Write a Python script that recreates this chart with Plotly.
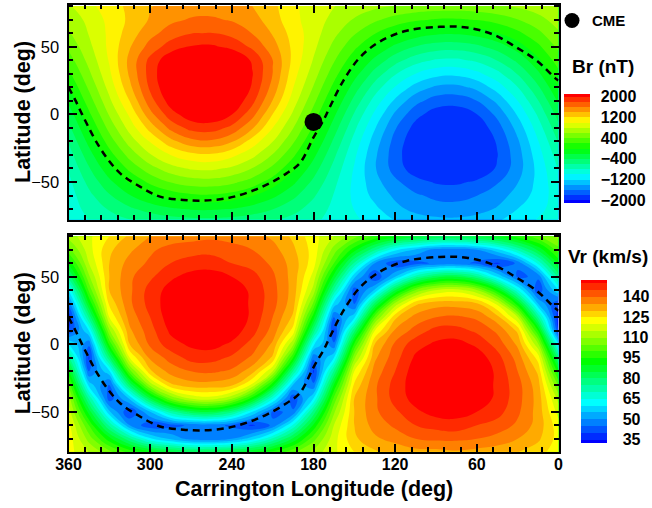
import plotly.graph_objects as go

# ---------------- data ----------------
LON = [0, 15, 30, 45, 60, 75, 90, 105, 120, 135, 150, 165, 180,
       195, 210, 225, 240, 255, 270, 285, 300, 315, 330, 345, 360]
LAT = [-80, -70, -60, -50, -40, -30, -20, -10, 0, 10, 20, 30, 40, 50, 60, 70, 80]

# Br (nT), rows follow LAT, columns follow LON
BR = [
    [-887, -965, -1100, -1200, -1280, -1320, -1310, -1260, -1180, -1080, -940, -859, -777, -699, -630, -574, -536, -518, -522, -547, -591, -651, -724, -805, -887],
    [-902, -1056, -1197, -1380, -1480, -1530, -1520, -1460, -1340, -1152, -1006, -848, -686, -532, -395, -286, -211, -176, -183, -232, -319, -438, -582, -740, -902],
    [-889, -1116, -1323, -1489, -1602, -1656, -1645, -1571, -1439, -1258, -1042, -811, -575, -349, -150, 10, 119, 171, 160, 89, -38, -212, -422, -653, -889],
    [-849, -1141, -1408, -1621, -1768, -1836, -1822, -1727, -1557, -1324, -1045, -749, -445, -155, 102, 307, 448, 514, 500, 409, 245, 21, -249, -545, -849],
    [-784, -1135, -1490, -1775, -1970, -1995, -1995, -1916, -1689, -1379, -1018, -664, -302, 44, 349, 594, 761, 840, 824, 715, 520, 253, -68, -422, -784],
    [-696, -1086, -1486, -1809, -1995, -1995, -1995, -1969, -1713, -1361, -960, -560, -150, 240, 586, 863, 1052, 1161, 1134, 1000, 780, 478, 114, -286, -696],
    [-585, -1009, -1430, -1780, -1995, -1995, -1995, -1952, -1675, -1294, -871, -438, 7, 431, 806, 1109, 1417, 1562, 1532, 1331, 1015, 688, 293, -140, -585],
    [-457, -901, -1326, -1692, -1943, -1995, -1995, -1875, -1583, -1183, -757, -303, 163, 607, 1000, 1423, 1745, 1896, 1867, 1657, 1279, 877, 463, 9, -457],
    [-315, -766, -1176, -1548, -1803, -1922, -1897, -1733, -1437, -1040, -620, -158, 315, 766, 1198, 1677, 2005, 2159, 2127, 1915, 1533, 1040, 620, 158, -315],
    [-163, -607, -1000, -1351, -1601, -1718, -1695, -1532, -1240, -877, -463, -9, 457, 901, 1391, 1863, 2186, 2337, 2308, 2097, 1720, 1207, 757, 303, -163],
    [-7, -431, -806, -1107, -1345, -1458, -1436, -1279, -1015, -688, -293, 140, 585, 1009, 1526, 1976, 2283, 2429, 2398, 2197, 1840, 1349, 871, 438, -7],
    [150, -240, -586, -863, -1052, -1148, -1127, -1000, -780, -478, -114, 286, 696, 1086, 1598, 2013, 2296, 2430, 2403, 2219, 1888, 1436, 960, 560, 150],
    [302, -44, -349, -594, -761, -840, -824, -715, -520, -253, 68, 422, 784, 1145, 1602, 1970, 2220, 2338, 2314, 2151, 1859, 1458, 1018, 664, 302],
    [445, 155, -102, -307, -448, -514, -500, -409, -245, -21, 249, 545, 849, 1151, 1491, 1761, 1947, 2035, 2016, 1896, 1679, 1384, 1045, 749, 445],
    [575, 349, 150, -10, -119, -171, -160, -89, 38, 212, 422, 653, 889, 1120, 1382, 1594, 1738, 1806, 1792, 1698, 1530, 1301, 1042, 811, 575],
    [686, 532, 395, 286, 211, 176, 183, 232, 319, 438, 582, 740, 902, 1056, 1300, 1480, 1580, 1630, 1620, 1550, 1420, 1240, 1060, 848, 686],
    [777, 699, 630, 574, 536, 518, 522, 547, 591, 651, 724, 805, 887, 1050, 1250, 1400, 1480, 1500, 1500, 1460, 1390, 1250, 1100, 950, 777],
]

# Vr (km/s), rows follow LAT, columns follow LON
VR = [
    [122, 127, 130, 132, 133, 134, 133, 133, 131, 129, 125, 119, 112, 104, 97, 91, 87, 85, 85, 88, 93, 99, 107, 115, 122],
    [123, 131, 135, 138, 140, 141, 141, 140, 137, 134, 129, 118, 103, 86, 71, 58, 50, 47, 48, 54, 61, 76, 92, 108, 123],
    [122, 133, 139, 143, 145, 148, 147, 145, 141, 137, 130, 115, 91, 66, 46, 39, 44, 47, 46, 43, 41, 50, 74, 100, 122],
    [118, 133, 141, 147, 150, 152, 152, 149, 144, 139, 130, 109, 77, 46, 44, 60, 77, 85, 83, 73, 55, 40, 56, 88, 118],
    [113, 133, 142, 149, 153, 155, 155, 152, 147, 139, 130, 101, 60, 41, 66, 93, 111, 118, 116, 106, 85, 56, 42, 74, 113],
    [104, 132, 142, 149, 154, 157, 156, 153, 147, 139, 126, 90, 46, 55, 92, 119, 131, 133, 133, 129, 112, 81, 44, 58, 104],
    [92, 129, 140, 149, 154, 157, 156, 153, 145, 137, 120, 76, 39, 75, 115, 132, 139, 141, 140, 137, 129, 103, 59, 45, 92],
    [78, 123, 138, 147, 153, 155, 154, 151, 143, 134, 109, 60, 46, 95, 129, 139, 144, 147, 147, 142, 136, 120, 79, 39, 78],
    [61, 111, 134, 143, 149, 152, 151, 148, 141, 130, 96, 46, 61, 111, 134, 143, 149, 152, 151, 148, 141, 130, 96, 46, 61],
    [40, 95, 129, 139, 144, 147, 147, 142, 136, 120, 79, 39, 78, 123, 138, 147, 153, 155, 154, 151, 143, 134, 109, 60, 40],
    [36, 75, 115, 132, 139, 141, 140, 137, 129, 103, 59, 45, 92, 129, 140, 149, 154, 157, 156, 153, 145, 137, 120, 76, 36],
    [40, 55, 92, 119, 131, 133, 133, 129, 112, 81, 44, 58, 104, 132, 142, 149, 154, 157, 156, 153, 147, 139, 126, 90, 46],
    [60, 41, 66, 93, 111, 118, 116, 106, 85, 56, 42, 74, 113, 133, 142, 149, 153, 155, 155, 152, 147, 139, 130, 101, 60],
    [77, 46, 44, 60, 77, 85, 83, 73, 55, 40, 56, 88, 118, 133, 141, 147, 150, 152, 152, 149, 144, 139, 130, 109, 77],
    [91, 66, 46, 39, 44, 47, 46, 43, 41, 50, 74, 100, 122, 133, 139, 143, 145, 148, 147, 145, 141, 137, 130, 115, 91],
    [103, 86, 71, 58, 50, 47, 48, 54, 61, 76, 92, 108, 123, 131, 137, 140, 142, 143, 143, 142, 139, 134, 129, 118, 103],
    [112, 104, 97, 91, 87, 85, 85, 88, 93, 99, 107, 115, 122, 129, 134, 137, 138, 139, 138, 137, 135, 131, 125, 119, 112],
]

# dashed neutral line (deg)
NEUTRAL_LON = [360, 355, 350, 345, 340, 332, 322, 307.5, 292.8, 275.7, 261, 243.8, 229, 214.4,
               199.8, 190, 180, 172, 168, 158, 146, 131, 111.6, 87.2, 67.6, 48, 30.9, 16, 2.7, 0]
NEUTRAL_LAT = [20, 10.5, 0, -10, -19.5, -32, -43.6, -53.4, -60.8, -63.2, -63.7, -62, -58, -52,
               -43.6, -36, -17, -3, 5.4, 25, 42, 54, 61.8, 64.7, 64.2, 59, 49.5, 39.7, 27, 25]

CME_LON = [180]
CME_LAT = [-5.6]

BR_TICKS = [-2000, -1200, -400, 400, 1200, 2000]
VR_TICKS = [35, 50, 65, 80, 95, 110, 125, 140]
X_TICKS = [360, 300, 240, 180, 120, 60, 0]
Y_TICKS = [-50, 0, 50]

# ---------------- styling ----------------
W, H = 652, 508
FONT = "Liberation Sans, Arial, Helvetica, sans-serif"
RAINBOW = [[0.0, "rgb(0,0,255)"], [0.25, "rgb(0,255,255)"], [0.5, "rgb(0,255,0)"],
           [0.75, "rgb(255,255,0)"], [1.0, "rgb(255,0,0)"]]

def px_x(p):
    return p / W

def px_y(p):
    return 1 - p / H

X_DOM = [px_x(68.5), px_x(558.5)]
Y1_DOM = [px_y(219.5), px_y(4.5)]
Y2_DOM = [px_y(451.7), px_y(235)]

fig = go.Figure()

fig.add_trace(go.Contour(
    x=LON, y=LAT, z=BR, xaxis="x", yaxis="y",
    colorscale=RAINBOW, autocontour=False,
    contours=dict(start=-2000, end=2000, size=200, coloring="fill", showlines=False),
    line=dict(width=0, smoothing=1.3),
    colorbar=dict(x=px_x(564), xanchor="left", xpad=0, ypad=0,
                  y=px_y(148.35), yanchor="middle", len=108.5, lenmode="pixels",
                  thickness=26, thicknessmode="pixels", outlinewidth=0,
                  tickvals=BR_TICKS, ticks="outside", ticklen=8, tickcolor="rgba(0,0,0,0)",
                  tickfont=dict(family=FONT, size=16, color="black", weight="bold")),
    showlegend=False, hoverinfo="skip",
))

fig.add_trace(go.Contour(
    x=LON, y=LAT, z=VR, xaxis="x2", yaxis="y2",
    colorscale=RAINBOW, autocontour=False,
    contours=dict(start=35, end=150, size=5, coloring="fill", showlines=False),
    line=dict(width=0, smoothing=1.3),
    colorbar=dict(x=px_x(581), xanchor="left", xpad=0, ypad=0,
                  y=px_y(361.2), yanchor="middle", len=163, lenmode="pixels",
                  thickness=26, thicknessmode="pixels", outlinewidth=0,
                  tickvals=VR_TICKS, ticks="outside", ticklen=13, tickcolor="rgba(0,0,0,0)",
                  tickfont=dict(family=FONT, size=16, color="black", weight="bold")),
    showlegend=False, hoverinfo="skip",
))

for xa, ya in (("x", "y"), ("x2", "y2")):
    fig.add_trace(go.Scatter(
        x=NEUTRAL_LON, y=NEUTRAL_LAT, xaxis=xa, yaxis=ya, mode="lines",
        line=dict(color="black", width=2.5, dash="7px,5px", shape="spline", smoothing=1),
        showlegend=False, hoverinfo="skip",
    ))

fig.add_trace(go.Scatter(
    x=CME_LON, y=CME_LAT, xaxis="x", yaxis="y", mode="markers",
    marker=dict(color="black", size=18), showlegend=False, hoverinfo="skip",
))
# legend entry for CME
fig.add_trace(go.Scatter(
    x=[None], y=[None], xaxis="x", yaxis="y", mode="markers", name="CME",
    marker=dict(color="black", size=15), showlegend=True,
))

axis_common = dict(
    showline=True, linewidth=2, linecolor="black", mirror="ticks",
    ticks="inside", ticklen=8, tickwidth=1.5, tickcolor="black",
    showgrid=False, zeroline=False,
)
xminor = dict(ticks="inside", ticklen=4.5, tickwidth=1.5, tickcolor="black", dtick=12, tick0=0)
yminor = dict(ticks="inside", ticklen=4.5, tickwidth=1.5, tickcolor="black", dtick=10, tick0=0)

fig.update_layout(
    width=W, height=H, margin=dict(l=0, r=0, t=0, b=0, autoexpand=False),
    paper_bgcolor="white", plot_bgcolor="white",
    font=dict(family=FONT, color="black"),
    xaxis=dict(domain=X_DOM, range=[360, 0], anchor="y", tickvals=X_TICKS,
               showticklabels=False, minor=xminor, **axis_common),
    yaxis=dict(domain=Y1_DOM, range=[-77.7, 81.2], anchor="x", tickvals=Y_TICKS,
               tickfont=dict(family=FONT, size=16.5), ticklabelstandoff=4,
               minor=yminor, **axis_common),
    xaxis2=dict(domain=X_DOM, range=[360, 0], anchor="y2", tickvals=X_TICKS,
                tickfont=dict(family=FONT, size=16, weight="bold"), ticklabelstandoff=-3,
                minor=xminor, **axis_common),
    yaxis2=dict(domain=Y2_DOM, range=[-79.5, 81], anchor="x2", tickvals=Y_TICKS,
                tickfont=dict(family=FONT, size=16.5), ticklabelstandoff=4,
                minor=yminor, **axis_common),
    legend=dict(x=px_x(552), y=px_y(20.7), xanchor="left", yanchor="middle",
                bgcolor="rgba(0,0,0,0)", borderwidth=0, itemsizing="trace",
                font=dict(family=FONT, size=15, weight="bold")),
    annotations=[
        dict(text="Latitude (deg)", x=px_x(23), y=px_y(112), xref="paper", yref="paper",
             textangle=-90, showarrow=False, xanchor="center", yanchor="middle",
             font=dict(family=FONT, size=21.5, weight="bold")),
        dict(text="Latitude (deg)", x=px_x(23), y=px_y(343.3), xref="paper", yref="paper",
             textangle=-90, showarrow=False, xanchor="center", yanchor="middle",
             font=dict(family=FONT, size=21.5, weight="bold")),
        dict(text="Carrington Longitude (deg)", x=px_x(313.5), y=px_y(489), xref="paper", yref="paper",
             showarrow=False, xanchor="center", yanchor="middle",
             font=dict(family=FONT, size=21.5, weight="bold")),
        dict(text="Br (nT)", x=px_x(603), y=px_y(66.5), xref="paper", yref="paper",
             showarrow=False, xanchor="center", yanchor="middle",
             font=dict(family=FONT, size=19, weight="bold")),
        dict(text="Vr (km/s)", x=px_x(608), y=px_y(256.7), xref="paper", yref="paper",
             showarrow=False, xanchor="center", yanchor="middle",
             font=dict(family=FONT, size=19, weight="bold")),
    ],
)

fig.write_html("out.html")
